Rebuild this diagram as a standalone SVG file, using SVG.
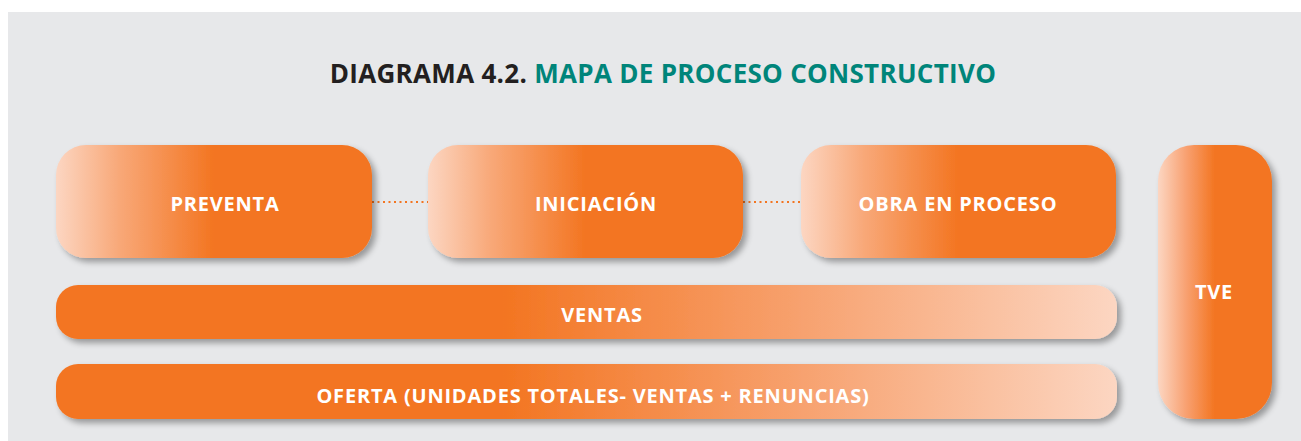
<svg xmlns="http://www.w3.org/2000/svg" width="1301" height="441" viewBox="0 0 1301 441">
<style>
.lbl{font-family:"Open Sans","Liberation Sans",sans-serif;font-weight:bold;font-size:20px;fill:#ffffff;text-anchor:middle;letter-spacing:0.8px}
.title{font-family:"Open Sans","Liberation Sans",sans-serif;font-weight:bold;font-size:26px;letter-spacing:0.3px}
</style>
<defs>
<linearGradient id="gL" x1="0" y1="0" x2="1" y2="0">
<stop offset="0" stop-color="#fcd6c2"/>
<stop offset="0.2" stop-color="#f8a878"/>
<stop offset="0.5" stop-color="#f37521"/>
<stop offset="1" stop-color="#f37521"/>
</linearGradient>
<linearGradient id="gT" x1="0" y1="0" x2="1" y2="0">
<stop offset="0" stop-color="#fcd6c2"/>
<stop offset="0.25" stop-color="#f8a070"/>
<stop offset="0.5" stop-color="#f37521"/>
<stop offset="1" stop-color="#f37521"/>
</linearGradient>
<linearGradient id="gR" x1="0" y1="0" x2="1" y2="0">
<stop offset="0" stop-color="#f37521"/>
<stop offset="0.42" stop-color="#f37521"/>
<stop offset="0.7" stop-color="#f7a16e"/>
<stop offset="1" stop-color="#fcd6c2"/>
</linearGradient>
<filter id="sh" x="-10%" y="-20%" width="125%" height="150%">
<feGaussianBlur in="SourceAlpha" stdDeviation="3"/>
<feOffset dx="4" dy="4" result="b"/>
<feComponentTransfer><feFuncA type="linear" slope="0.35"/></feComponentTransfer>
<feMerge><feMergeNode/><feMergeNode in="SourceGraphic"/></feMerge>
</filter>
</defs>
<rect x="0" y="0" width="1301" height="441" fill="#ffffff"/>
<rect x="8" y="12" width="1293" height="429" fill="#e7e8ea"/>
<text class="title" x="663" y="83" text-anchor="middle"><tspan fill="#231f20">DIAGRAMA 4.2. </tspan><tspan fill="#00857a">MAPA DE PROCESO CONSTRUCTIVO</tspan></text>
<g id="connectors" stroke="#f37521" stroke-width="2" stroke-dasharray="2 3.5" fill="none">
<line x1="372" y1="202" x2="428" y2="202"/>
<line x1="743" y1="202" x2="801" y2="202"/>
</g>
<g id="preventa">
<rect x="56" y="145" width="316" height="113" rx="30" fill="url(#gL)" filter="url(#sh)"/>
<text class="lbl" x="225" y="211">PREVENTA</text>
</g>
<g id="iniciacion">
<rect x="428" y="145" width="315" height="113" rx="30" fill="url(#gL)" filter="url(#sh)"/>
<text class="lbl" x="596" y="211">INICIACIÓN</text>
</g>
<g id="obra">
<rect x="801" y="145" width="315" height="113" rx="30" fill="url(#gL)" filter="url(#sh)"/>
<text class="lbl" x="958" y="211">OBRA EN PROCESO</text>
</g>
<g id="tve">
<rect x="1158" y="145" width="114" height="274" rx="36" fill="url(#gT)" filter="url(#sh)"/>
<text class="lbl" x="1214" y="299">TVE</text>
</g>
<g id="ventas">
<rect x="56" y="285" width="1061" height="54" rx="22" fill="url(#gR)" filter="url(#sh)"/>
<text class="lbl" x="602" y="322">VENTAS</text>
</g>
<g id="oferta">
<rect x="56" y="364" width="1061" height="55" rx="22" fill="url(#gR)" filter="url(#sh)"/>
<text class="lbl" x="593" y="403">OFERTA (UNIDADES TOTALES- VENTAS + RENUNCIAS)</text>
</g>
</svg>
